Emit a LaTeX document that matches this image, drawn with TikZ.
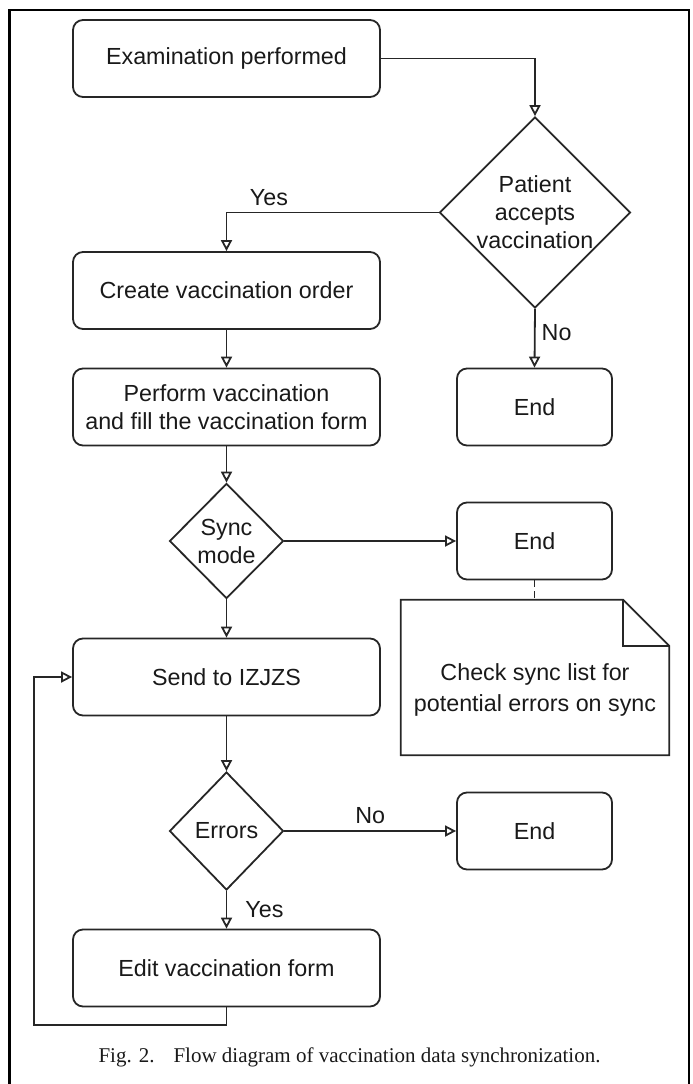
\documentclass[tikz,border=0pt]{standalone}
\usepackage{fontspec}
\setmainfont{Liberation Sans}
\newfontfamily\capfont{Liberation Serif}
\usetikzlibrary{arrows.meta,shapes.geometric}
\begin{document}
\begin{tikzpicture}[x=1pt, y=-1pt,
		every node/.style={font=\fontsize{23.3}{28}\selectfont, text=black!90},
		process/.style={draw=black!85, line width=1.8pt, rounded corners=10pt, minimum width=307pt, minimum height=77pt, align=center},
		endbox/.style={process, minimum width=155pt},
		decision/.style={diamond, draw=black!85, line width=1.8pt, inner sep=0pt},
		arr/.style={draw=black!85, line width=1.8pt, -{Triangle[open, length=11pt, width=11pt]}},
		lbl/.style={inner sep=2pt}]
	\useasboundingbox (0,0) rectangle (693,1084);
	\draw[line width=2.2pt] (9.5,1084) -- (9.5,10) -- (689,10) -- (689,1084);
	\node[process] (exam) at (226.5,58.5) {Examination performed};
	\node[decision, minimum width=191pt, minimum height=191pt, label={[align=center]center:Patient\\accepts\\vaccination}] (patient) at (535,212.5) {};
	\node[process] (create) at (226.5,290.5) {Create vaccination order};
	\node[process] (perform) at (226.5,407) {Perform vaccination\\and fill the vaccination form};
	\node[endbox] (end1) at (534.5,407) {End};
	\node[decision, minimum width=114pt, minimum height=115pt, label={[align=center]center:Sync\\mode}] (sync) at (226.5,541) {};
	\node[endbox] (end2) at (534.5,541) {End};
	\node[minimum width=268pt, minimum height=155pt] (note) at (535,677.5) {};
	\node[align=center, font=\fontsize{23.3}{31}\selectfont] (notetext) at (535,690) {Check sync list for\\potential errors on sync};
	\node[process] (send) at (226.5,677) {Send to IZJZS};
	\node[decision, minimum width=114pt, minimum height=118pt, label={center:Errors}] (errors) at (226.5,831) {};
	\node[endbox] (end3) at (534.5,831) {End};
	\node[process] (edit) at (226.5,968) {Edit vaccination form};
	\coordinate (back) at (34,1025);
	\draw[line width=1.8pt, draw=black!85] (note.north west) -- ([xshift=-46pt]note.north east) -- ([yshift=-46pt]note.north east) -- (note.south east) -- (note.south west) -- cycle;
	\draw[line width=1.8pt, draw=black!85] ([xshift=-46pt]note.north east) -- ([xshift=-46pt, yshift=-46pt]note.north east) -- ([yshift=-46pt]note.north east);
	\draw[arr] (exam.east) -| (patient.north);
	\draw[arr] (patient.west) -| node[lbl, pos=0.4, above=4pt] (yes1) {Yes} (create.north);
	\draw[arr] (patient.south) -- node[lbl, pos=0.4, right=4pt] (no1) {No} (end1.north);
	\draw[arr] (create.south) -- (perform.north);
	\draw[arr] (perform.south) -- (sync.north);
	\draw[arr] (sync.east) -- (end2.west);
	\draw[arr] (sync.south) -- (send.north);
	\draw[dash pattern=on 7pt off 4pt, line width=1.8pt, draw=black!85] (end2.south) -- (end2.south |- note.north);
	\draw[arr] (send.south) -- (errors.north);
	\draw[arr] (errors.east) -- node[lbl, above=4pt] (no2) {No} (end3.west);
	\draw[arr] (errors.south) -- node[lbl, right=16pt] (yes2) {Yes} (edit.north);
	\draw[arr] (edit.south) |- (back) |- (send.west);
	\node[anchor=base, font=\capfont\fontsize{21}{25}\selectfont] (caption) at (349.5,1062) {Fig. 2.\hspace{19pt}Flow diagram of vaccination data synchronization.};
\end{tikzpicture}
\end{document}
